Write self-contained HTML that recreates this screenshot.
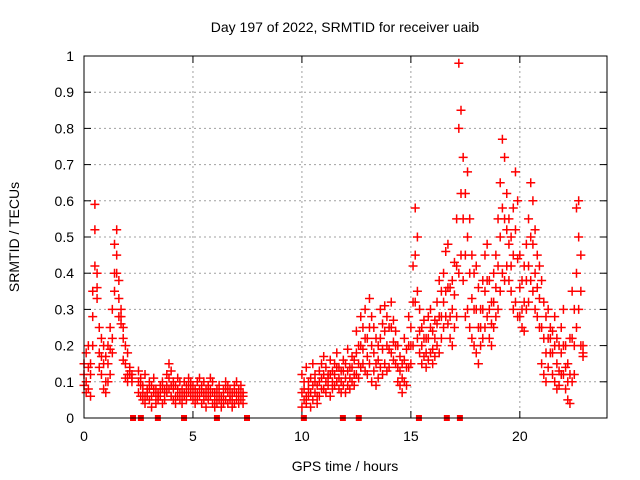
<!DOCTYPE html>
<html><head><meta charset="utf-8"><style>
html,body{margin:0;padding:0;background:#fff}
svg{display:block;font-family:"Liberation Sans","DejaVu Sans",sans-serif}
</style></head><body>
<svg id="chart" width="640" height="480" viewBox="0 0 640 480">
<text x="345" y="32" text-anchor="middle" font-size="14">Day 197 of 2022, SRMTID for receiver uaib</text>
<text x="0" y="0" transform="translate(19,237) rotate(-90)" text-anchor="middle" font-size="14">SRMTID / TECUs</text>
<text x="345" y="471" text-anchor="middle" font-size="14">GPS time / hours</text>
<g id="grid"></g>
<g id="ticks"></g>
<g id="marks"></g>
<rect x="84" y="56" width="523" height="362" fill="none" stroke="#000" stroke-width="1"/>
</svg>
<script>
const xTicks=[0,5,10,15,20];
const yTicks=[0,0.1,0.2,0.3,0.4,0.5,0.6,0.7,0.8,0.9,1];
const yTickLabels=["0","0.1","0.2","0.3","0.4","0.5","0.6","0.7","0.8","0.9","1"];
const times=[
0.0,0.1,0.2,0.3,0.4,0.5,0.6,0.7,0.8,0.9,1.0,1.1,1.2,1.3,1.4,1.5,1.6,1.7,1.8,1.9,2.0,2.1,2.2,
2.5,2.6,2.7,2.8,2.9,3.0,3.1,3.2,3.3,3.4,3.5,3.6,3.7,3.8,3.9,4.0,4.1,4.2,4.3,4.4,4.5,4.6,4.7,4.8,4.9,5.0,5.1,5.2,5.3,5.4,5.5,5.6,5.7,5.8,5.9,6.0,6.1,6.2,6.3,6.4,6.5,6.6,6.7,6.8,6.9,7.0,7.1,7.2,7.3,
10.0,10.1,10.2,10.3,10.4,10.5,10.6,10.7,10.8,10.9,
11.0,11.1,11.2,11.3,11.4,11.5,11.6,11.7,11.8,11.9,
12.0,12.1,12.2,12.3,12.4,12.5,12.6,12.7,12.8,12.9,
13.0,13.1,13.2,13.3,13.4,13.5,13.6,13.7,13.8,13.9,
14.0,14.1,14.2,14.3,14.4,14.5,14.6,14.7,14.8,14.9,
15.0,15.1,15.2,15.3,15.4,15.5,15.6,15.7,15.8,15.9,
16.0,16.1,16.2,16.3,16.4,16.5,16.6,16.7,16.8,16.9,
17.0,17.1,17.2,17.3,17.4,17.5,17.6,17.7,17.8,17.9,
18.0,18.1,18.2,18.3,18.4,18.5,18.6,18.7,18.8,18.9,
19.0,19.1,19.2,19.3,19.4,19.5,19.6,19.7,19.8,19.9,
20.0,20.1,20.2,20.3,20.4,20.5,20.6,20.7,20.8,20.9,
21.0,21.1,21.2,21.3,21.4,21.5,21.6,21.7,21.8,21.9,
22.0,22.1,22.2,22.3,22.4,22.5,22.6,22.7,22.8,22.9];
const seriesA=[
.15,.18,.20,.12,.35,.59,.40,.25,.12,.20,.17,.15,.25,.30,.48,.52,.38,.30,.25,.15,.18,.12,.10,
.13,.11,.09,.12,.08,.10,.09,.11,.08,.07,.09,.10,.08,.12,.15,.13,.10,.09,.11,.10,.08,.10,.09,.11,.10,.09,.08,.10,.11,.09,.10,.08,.09,.11,.10,.07,.08,.09,.06,.08,.10,.09,.08,.07,.09,.10,.08,.09,.07,
.12,.10,.14,.08,.11,.15,.12,.09,.13,.15,
.17,.14,.12,.16,.13,.15,.18,.14,.13,.16,
.15,.19,.14,.17,.16,.24,.20,.28,.25,.30,
.22,.33,.28,.25,.22,.20,.30,.26,.31,.28,
.25,.32,.27,.24,.20,.17,.15,.22,.19,.28,
.25,.42,.58,.50,.30,.25,.27,.22,.28,.30,
.24,.27,.32,.38,.35,.40,.46,.48,.36,.38,
.43,.55,.98,.85,.72,.62,.68,.55,.45,.40,
.42,.36,.30,.38,.45,.48,.38,.32,.40,.45,
.55,.65,.77,.72,.62,.55,.50,.58,.68,.60,
.45,.38,.42,.48,.55,.65,.60,.52,.45,.42,
.38,.32,.28,.30,.25,.24,.28,.22,.20,.25,
.30,.20,.15,.22,.35,.30,.58,.60,.45,.20];
const seriesB=[
.09,.10,.08,.06,.20,.52,.33,.18,.17,.08,.10,.20,.12,.18,.40,.45,.33,.28,.22,.20,.12,.14,.11,
.07,.06,.05,.04,.06,.05,.03,.07,.04,.05,.06,.04,.05,.07,.08,.06,.05,.04,.06,.05,.04,.06,.05,.07,.06,.05,.04,.05,.06,.04,.05,.03,.05,.06,.04,.03,.04,.05,.03,.04,.05,.04,.05,.03,.04,.05,.04,.05,.04,
.03,.05,.04,.06,.03,.05,.07,.04,.06,.08,
.08,.07,.09,.06,.08,.09,.10,.08,.07,.09,
.07,.09,.08,.10,.09,.12,.11,.14,.15,.13,
.12,.15,.10,.13,.09,.11,.14,.12,.15,.13,
.14,.18,.16,.15,.10,.09,.07,.10,.09,.14,
.15,.20,.32,.22,.18,.15,.17,.14,.16,.18,
.15,.17,.20,.18,.22,.25,.28,.26,.22,.20,
.25,.28,.40,.45,.38,.28,.30,.25,.22,.20,
.18,.15,.20,.22,.25,.28,.22,.20,.25,.28,
.30,.35,.40,.38,.42,.38,.35,.30,.32,.28,
.28,.25,.24,.30,.32,.38,.35,.30,.28,.25,
.15,.12,.10,.14,.18,.12,.10,.08,.09,.12,
.12,.08,.05,.04,.10,.12,.25,.30,.20,.17];
const seriesC=[
.12,.07,.14,.15,.28,.42,.36,.14,.22,.15,.07,.10,.19,.22,.35,.40,.28,.26,.16,.11,.10,.13,.12,
.10,.09,.07,.06,.07,.08,.06,.08,.06,.06,.07,.08,.07,.09,.11,.09,.08,.06,.08,.07,.06,.07,.07,.09,.08,.07,.06,.07,.08,.07,.07,.06,.07,.08,.07,.05,.06,.07,.05,.06,.08,.07,.06,.05,.07,.07,.06,.07,.06,
.07,.08,.06,.10,.07,.09,.10,.06,.10,.11,
.12,.10,.11,.12,.10,.12,.14,.11,.10,.13,
.11,.13,.11,.14,.12,.18,.15,.20,.19,.22,
.17,.25,.20,.18,.15,.16,.22,.19,.24,.20,
.19,.25,.21,.20,.14,.13,.11,.16,.14,.20,
.20,.32,.45,.35,.24,.20,.22,.18,.22,.25,
.19,.22,.26,.28,.28,.32,.35,.36,.28,.30,
.34,.42,.80,.62,.55,.45,.50,.40,.33,.30,
.30,.25,.25,.30,.35,.38,.30,.26,.32,.36,
.42,.50,.58,.55,.52,.48,.42,.45,.52,.44,
.36,.30,.32,.38,.42,.50,.48,.40,.36,.33,
.25,.22,.18,.22,.22,.18,.20,.15,.13,.18,
.20,.14,.10,.12,.22,.20,.40,.50,.35,.18];
const zeroTimes=[2.25,2.61,3.39,4.59,6.10,7.48,10.09,11.88,12.61,15.37,16.65,17.25];

const NS="http://www.w3.org/2000/svg";
const X0=84,X1=607,Y0=418,Y1=56,XMAX=24,YMAX=1;
function xs(t){return X0+(X1-X0)*t/XMAX;}
function ys(v){return Y0-(Y0-Y1)*v/YMAX;}
function mk(tag,attrs,parent){const e=document.createElementNS(NS,tag);for(const k in attrs)e.setAttribute(k,attrs[k]);parent.appendChild(e);return e;}
const grid=document.getElementById('grid'),ticks=document.getElementById('ticks'),marks=document.getElementById('marks');
yTicks.forEach((v,i)=>{
  const y=ys(v);
  if(i>0&&i<yTicks.length-1){const g=mk('line',{x1:X0,x2:X1,y1:y,y2:y,stroke:'#a0a0a0','stroke-dasharray':'2,3'},grid);
  
  }
  const t=mk('line',{x1:X0,x2:X0+7,y1:y,y2:y,stroke:'#000'},ticks);
  
  
  const t2=mk('line',{x1:X1-7,x2:X1,y1:y,y2:y,stroke:'#000'},ticks);
  
  
  const l=mk('text',{x:X0-10,y:y+5,'text-anchor':'end','font-size':'14'},ticks);
  l.textContent=yTickLabels[i];
  
  
});
xTicks.forEach(v=>{
  const x=xs(v);
  if(v>0){const g=mk('line',{x1:x,x2:x,y1:Y1,y2:Y0,stroke:'#a0a0a0','stroke-dasharray':'2,3'},grid);
  
  }
  const t=mk('line',{x1:x,x2:x,y1:Y0-7,y2:Y0,stroke:'#000'},ticks);
  
  
  const t2=mk('line',{x1:x,x2:x,y1:Y1,y2:Y1+7,stroke:'#000'},ticks);
  
  
  const l=mk('text',{x:x,y:Y0+23,'text-anchor':'middle','font-size':'14'},ticks);
  l.textContent=String(v);
  
  
});
function plus(t,v,name){
  const x=xs(t),y=ys(v);
  const p=mk('path',{d:`M${x-4.5},${y}H${x+4.5}M${x},${y-4.5}V${y+4.5}`,stroke:'#ff0000','stroke-width':'1.5',fill:'none'},marks);
  
  
}
[seriesA,seriesB,seriesC].forEach((s,si)=>{
  times.forEach((t,i)=>{plus(t,s[i],'point-series-'+['a','b','c'][si]);});
});
zeroTimes.forEach(t=>{
  const r=mk('rect',{x:xs(t)-3,y:Y0-3,width:6,height:6,fill:'#ff0000'},marks);
  
  
});
</script>
</body></html>
